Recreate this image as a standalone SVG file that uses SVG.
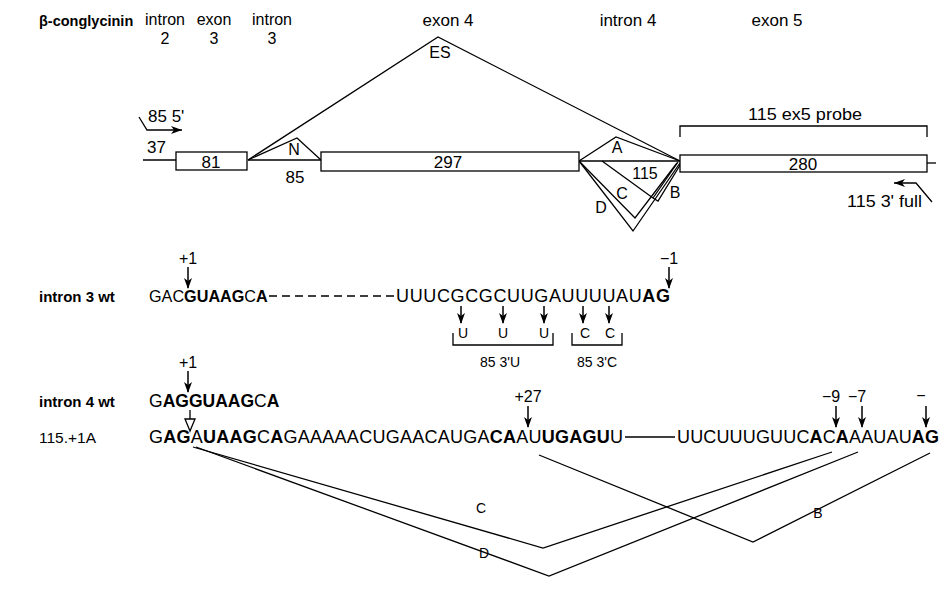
<svg xmlns="http://www.w3.org/2000/svg" width="943" height="595" viewBox="0 0 943 595">
<style>
.t{font-family:"Liberation Sans",Arial,sans-serif;font-size:17px;fill:#000}
.h{font-size:16px}
.s{font-size:14px}
.f15{font-size:15px}
.f16{font-size:16px}
.q{font-size:18px}
.b{font-weight:bold}
.m{text-anchor:middle}
.ln{stroke:#000;stroke-width:1.3;fill:none}
.box{stroke:#000;stroke-width:1.3;fill:#fff}
.ar{stroke:#000;stroke-width:1.5;fill:none;marker-end:url(#ah)}
</style>
<defs>
<marker id="ah" markerUnits="userSpaceOnUse" markerWidth="11" markerHeight="8" viewBox="0 0 11 8" refX="10" refY="4" orient="auto">
<path d="M0,0 L11,4 L0,8 L3,4 Z" fill="#000"/>
</marker>
<marker id="ahh" markerUnits="userSpaceOnUse" markerWidth="12" markerHeight="10" viewBox="0 0 12 10" refX="11" refY="5" orient="auto">
<path d="M0,1 L11,5 L0,9 L3,5 Z" fill="#000"/>
</marker>
</defs>

<g id="header">
<text class="t b" x="39" y="26" style="font-size:14.5px">β-conglycinin</text>
<text class="t h m" x="165" y="25">intron</text><text class="t h m" x="165" y="44">2</text>
<text class="t h m" x="214" y="25">exon</text><text class="t h m" x="214" y="44">3</text>
<text class="t h m" x="272" y="25">intron</text><text class="t h m" x="272" y="44">3</text>
<text class="t m" x="448" y="26">exon 4</text>
<text class="t m" x="628" y="26">intron 4</text>
<text class="t m" x="777" y="26">exon 5</text>
</g>

<g id="connectors">
<polyline class="ln" points="248,160 438,37 680,161"/>
<line class="ln" x1="143" y1="160" x2="176" y2="160"/>
<line class="ln" x1="248" y1="160" x2="321" y2="160"/>
<polyline class="ln" points="248,160 297,138 321,160"/>
<polyline class="ln" points="579,161 616,137 680,161"/>
<line class="ln" x1="579" y1="161" x2="680" y2="161"/>
<polyline class="ln" points="602,161 653,198 658,201 682,162"/>
<line class="ln" x1="653" y1="198" x2="678" y2="162"/>
<polyline class="ln" points="579,161 635,218 677,163"/>
<polyline class="ln" points="579,161 633,231 680,163"/>
<line class="ln" x1="927" y1="163" x2="936" y2="163"/>
<polyline class="ln" points="680,137 680,126 927,126 927,137"/>
<polyline class="ln" points="139,117 147,130 182,130" style="marker-end:url(#ahh)"/>
<polyline class="ln" points="932,202 916,183 894,183" style="marker-end:url(#ahh)"/>
</g>

<g id="exon3"><rect class="box" x="176" y="152" width="71" height="18"/><text class="t m" x="211" y="168">81</text></g>
<g id="exon4"><rect class="box" x="321" y="152" width="258" height="19"/><text class="t m" x="448" y="168">297</text></g>
<g id="exon5"><rect class="box" x="680" y="155" width="247" height="17"/><text class="t m" x="803" y="170">280</text></g>

<g id="top-labels">
<text class="t h m" x="440" y="58">ES</text>
<text class="t" x="148" y="122">85 5'</text>
<text class="t" x="147" y="153">37</text>
<text class="t m f16" x="294" y="155">N</text>
<text class="t m" x="295" y="183">85</text>
<text class="t m f16" x="617" y="153">A</text>
<text class="t m f16" x="645" y="179">115</text>
<text class="t m f16" x="675" y="198">B</text>
<text class="t m f16" x="622" y="199">C</text>
<text class="t m f16" x="601" y="213">D</text>
<text class="t m" x="805" y="120" textLength="114" lengthAdjust="spacingAndGlyphs">115 ex5 probe</text>
<text class="t" x="847" y="207" textLength="75" lengthAdjust="spacingAndGlyphs">115 3' full</text>
</g>

<g id="intron3">
<text class="t b f15" x="39" y="302">intron 3 wt</text>
<text class="t m f16" x="188" y="264">+1</text>
<line class="ar" x1="188" y1="267" x2="188" y2="288"/>
<text class="t" x="149" y="302" style="font-size:16.2px">GAC<tspan class="b">GUAAG</tspan>C<tspan class="b">A</tspan></text>
<line class="ln" x1="269" y1="296" x2="394" y2="296" stroke-dasharray="8,5"/>
<text class="t q" x="396" y="302" textLength="274" lengthAdjust="spacing">UUUCGCGCUUGAUUUUAU<tspan class="b">AG</tspan></text>
<text class="t m f16" x="669" y="264">−1</text>
<line class="ar" x1="669" y1="267" x2="669" y2="288"/>
<line class="ar" x1="461" y1="306" x2="461" y2="323"/>
<line class="ar" x1="503" y1="306" x2="503" y2="323"/>
<line class="ar" x1="544" y1="306" x2="544" y2="323"/>
<line class="ar" x1="583" y1="306" x2="583" y2="323"/>
<line class="ar" x1="609" y1="306" x2="609" y2="323"/>
<text class="t m s" x="463" y="338">U</text>
<text class="t m s" x="503" y="338">U</text>
<text class="t m s" x="544" y="338">U</text>
<text class="t m s" x="585" y="338">C</text>
<text class="t m s" x="610" y="338">C</text>
<polyline class="ln" points="453,333 453,345 553,345 553,333"/>
<polyline class="ln" points="572,333 572,345 622,345 622,333"/>
<text class="t m s" x="500" y="367">85 3'U</text>
<text class="t m s" x="597" y="367">85 3'C</text>
</g>

<g id="intron4">
<text class="t m f16" x="188" y="368">+1</text>
<line class="ar" x1="188" y1="371" x2="188" y2="392"/>
<text class="t b f15" x="39" y="407">intron 4 wt</text>
<text class="t" x="149" y="407" style="font-size:17.5px">G<tspan class="b">AGGUAAG</tspan>C<tspan class="b">A</tspan></text>
<line class="ln" x1="190" y1="410" x2="190" y2="419"/>
<polygon class="box" points="185,419 195,419 190,431"/>
<text class="t" x="39" y="443" style="font-size:15.5px">115.+1A</text>
<text class="t q" x="149" y="443" textLength="474" lengthAdjust="spacing">G<tspan class="b">AG</tspan>A<tspan class="b">UAAG</tspan>C<tspan class="b">A</tspan>GAAAAACUGAACAUGA<tspan class="b">CA</tspan>AU<tspan class="b">UGAGU</tspan>U</text>
<line class="ln" x1="625" y1="437" x2="675" y2="437"/>
<text class="t q" x="677" y="443" textLength="262" lengthAdjust="spacing">UUCUUUGUUC<tspan class="b">A</tspan>C<tspan class="b">A</tspan>AAUAU<tspan class="b">AG</tspan></text>
<text class="t m f16" x="528" y="402">+27</text>
<line class="ar" x1="528" y1="406" x2="528" y2="427"/>
<text class="t m f16" x="831" y="402">−9</text>
<line class="ar" x1="836" y1="406" x2="836" y2="427"/>
<text class="t m f16" x="857" y="402">−7</text>
<line class="ar" x1="862" y1="406" x2="862" y2="427"/>
<text class="t m f16" x="921" y="401">−</text>
<line class="ar" x1="926" y1="406" x2="926" y2="427"/>
</g>

<g id="splice-lines">
<polyline class="ln" points="193,447 543,548 832,452"/>
<polyline class="ln" points="196,447 549,576 858,452"/>
<polyline class="ln" points="539,455 753,542 930,453"/>
<text class="t m s" x="481" y="513">C</text>
<text class="t m s" x="484" y="558">D</text>
<text class="t m s" x="818" y="518">B</text>
</g>
</svg>
